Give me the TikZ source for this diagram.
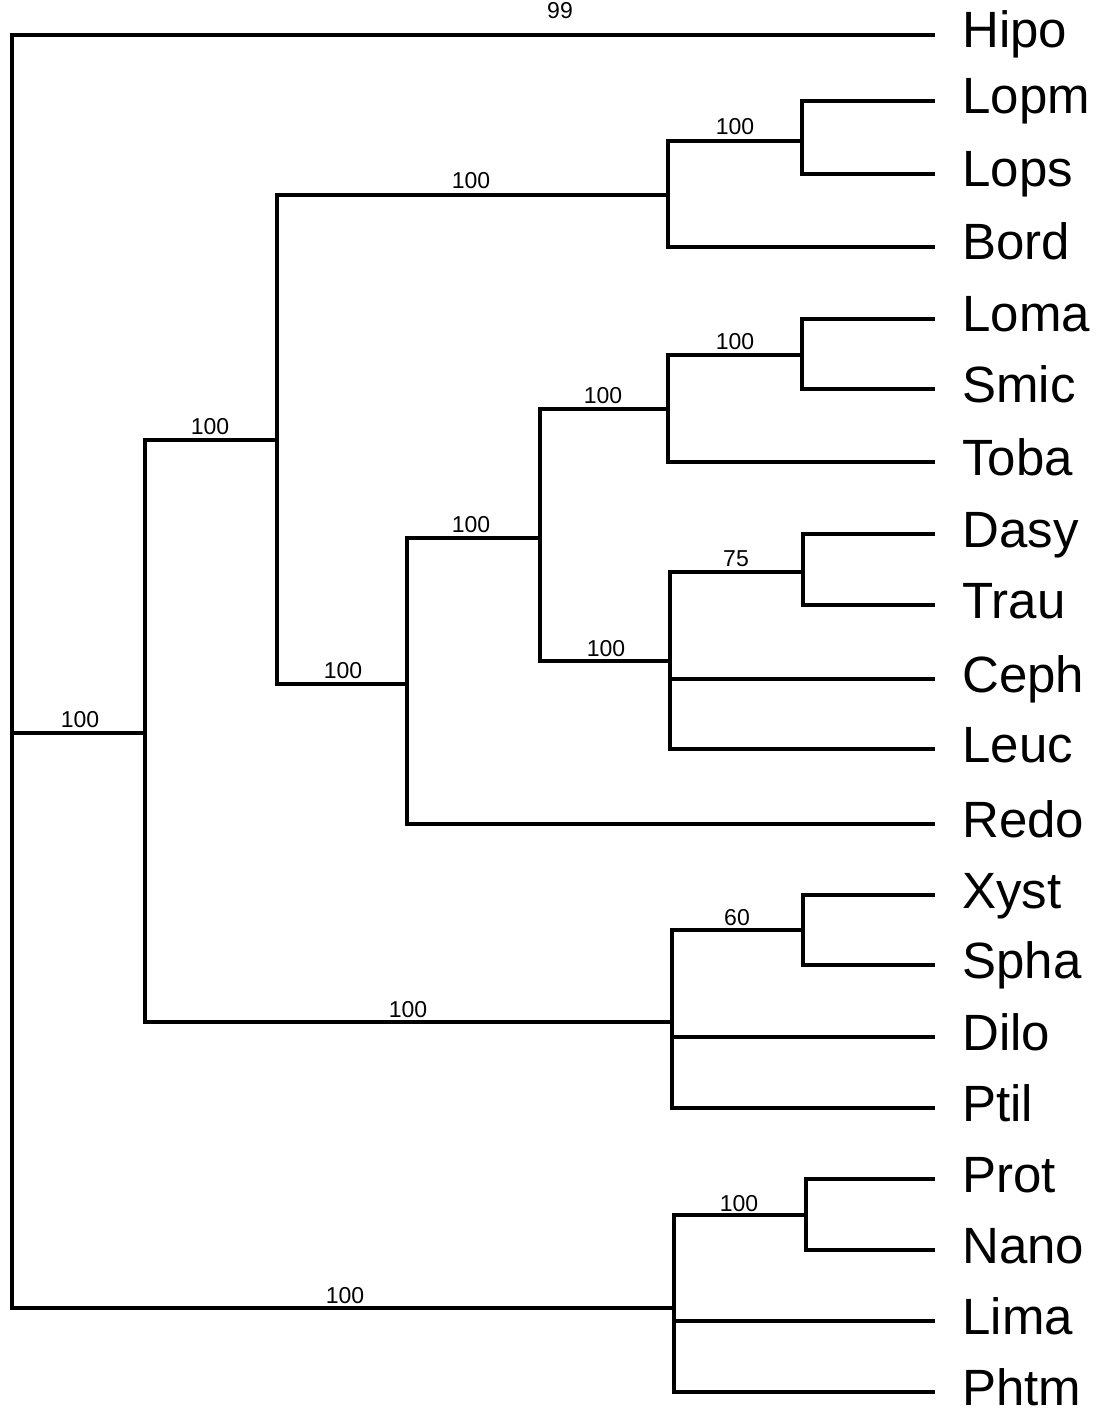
\documentclass[tikz,border=0pt]{standalone}
\usepackage{fontspec}
\setmainfont{Liberation Sans}
\begin{document}
\begin{tikzpicture}[x=0.5pt,y=-0.5pt,
  branch/.style={line width=1.8pt,line cap=rect},
  leaf/.style={anchor=base west,inner sep=0pt,font=\fontsize{25.5}{27}\selectfont},
  boot/.style={anchor=base,inner sep=0pt,font=\fontsize{11.5}{13}\selectfont}]
\useasboundingbox (0,0) rectangle (1097,1411);
% internal nodes
\coordinate (R) at (12,733);
\coordinate (A) at (145,733);
\coordinate (B) at (277,440);
\coordinate (C) at (668,195);
\coordinate (L1) at (802,141);
\coordinate (D) at (407,684);
\coordinate (E) at (540,538);
\coordinate (F) at (668,409);
\coordinate (L2) at (802,355);
\coordinate (G) at (670,661);
\coordinate (L3) at (803,572);
\coordinate (H) at (672,1022);
\coordinate (L4) at (803,930);
\coordinate (I) at (674,1308);
\coordinate (L5) at (806,1215);
% leaf tips
\foreach \n/\y in {Hipo/35,Lopm/101,Lops/174,Bord/247,Loma/319,Smic/389,Toba/462,Dasy/534,Trau/605,Ceph/679,Leuc/749,Redo/824,Xyst/895,Spha/965,Dilo/1037,Ptil/1108,Prot/1179,Nano/1250,Lima/1321,Phtm/1392}{
  \coordinate (t\n) at (933,\y);
  \node[leaf] (\n) at (962,\y+13) {\n};
}
% branches
\draw[branch] (R) |- (tHipo);
\draw[branch] (R) -- (A);
\draw[branch] (R) |- (I);
\draw[branch] (A) |- (B);
\draw[branch] (A) |- (H);
\draw[branch] (B) |- (C);
\draw[branch] (B) |- (D);
\draw[branch] (C) |- (L1);
\draw[branch] (C) |- (tBord);
\draw[branch] (L1) |- (tLopm);
\draw[branch] (L1) |- (tLops);
\draw[branch] (D) |- (E);
\draw[branch] (D) |- (tRedo);
\draw[branch] (E) |- (F);
\draw[branch] (E) |- (G);
\draw[branch] (F) |- (L2);
\draw[branch] (F) |- (tToba);
\draw[branch] (L2) |- (tLoma);
\draw[branch] (L2) |- (tSmic);
\draw[branch] (G) |- (L3);
\draw[branch] (G) |- (tCeph);
\draw[branch] (G) |- (tLeuc);
\draw[branch] (L3) |- (tDasy);
\draw[branch] (L3) |- (tTrau);
\draw[branch] (H) |- (L4);
\draw[branch] (H) |- (tDilo);
\draw[branch] (H) |- (tPtil);
\draw[branch] (L4) |- (tXyst);
\draw[branch] (L4) |- (tSpha);
\draw[branch] (I) |- (L5);
\draw[branch] (I) |- (tLima);
\draw[branch] (I) |- (tPhtm);
\draw[branch] (L5) |- (tProt);
\draw[branch] (L5) |- (tNano);
% bootstrap values
\node[boot] (b99) at (560,19) {99};
\node[boot] (bA) at (80,727) {100};
\node[boot] (bB) at (210,434) {100};
\node[boot] (bC) at (471,189) {100};
\node[boot] (bL1) at (735,135) {100};
\node[boot] (bD) at (343,678) {100};
\node[boot] (bE) at (471,532) {100};
\node[boot] (bF) at (603,404) {100};
\node[boot] (bL2) at (735,350) {100};
\node[boot] (bG) at (606,656) {100};
\node[boot] (bL3) at (736,566) {75};
\node[boot] (bH) at (408,1017) {100};
\node[boot] (bL4) at (737,925) {60};
\node[boot] (bL5) at (739,1211) {100};
\node[boot] (bI) at (345,1303) {100};
\end{tikzpicture}
\end{document}
